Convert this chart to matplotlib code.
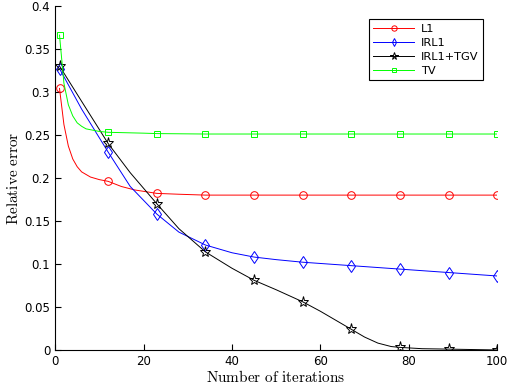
import numpy as np
import matplotlib
matplotlib.use("Agg")
import matplotlib.pyplot as plt
from matplotlib.ticker import FormatStrFormatter

plt.rcParams['mathtext.fontset'] = 'cm'

# values (iteration -> relative error)
it_l1 = [1, 2, 3, 4, 5, 6, 8, 10, 12, 15, 18, 23, 28, 34, 45, 56, 67, 78, 89, 100]
err_l1 = [0.304, 0.262, 0.237, 0.222, 0.213, 0.207, 0.201, 0.198, 0.196, 0.190,
          0.186, 0.182, 0.181, 0.180, 0.180, 0.180, 0.180, 0.180, 0.180, 0.180]

it_irl1 = [1, 6, 12, 17, 23, 28, 34, 40, 45, 50, 56, 67, 78, 89, 100]
err_irl1 = [0.327, 0.280, 0.230, 0.190, 0.158, 0.137, 0.122, 0.113, 0.108, 0.105,
            0.102, 0.098, 0.094, 0.090, 0.086]

it_tgv = [1, 6, 12, 17, 23, 28, 34, 40, 45, 50, 56, 60, 64, 67, 70, 73, 76, 78, 83, 89, 100]
err_tgv = [0.330, 0.289, 0.240, 0.206, 0.170, 0.141, 0.114, 0.095, 0.081, 0.070,
           0.056, 0.045, 0.033, 0.024, 0.015, 0.008, 0.004, 0.003, 0.0015, 0.001, 0.0]

it_tv = [1, 2, 3, 4, 5, 6, 7, 8, 10, 12, 20, 23, 34, 45, 56, 67, 78, 89, 100]
err_tv = [0.366, 0.310, 0.285, 0.272, 0.264, 0.260, 0.257, 0.256, 0.254, 0.253,
          0.252, 0.2515, 0.251, 0.251, 0.251, 0.251, 0.251, 0.251, 0.251]

marker_its = [1, 12, 23, 34, 45, 56, 67, 78, 89, 100]

fig = plt.figure(figsize=(5.1, 3.88), dpi=100)
ax = fig.add_axes([0.108, 0.098, 0.867, 0.887])

series = [
    (it_l1, err_l1, 'r', 'o', 5.5, 'L1'),
    (it_irl1, err_irl1, 'b', 'd', 6, 'IRL1'),
    (it_tgv, err_tgv, 'k', '*', 8, 'IRL1+TGV'),
    (it_tv, err_tv, (0, 1, 0), 's', 5, 'TV'),
]
for xs, ys, c, m, ms, lab in series:
    idx = [xs.index(v) for v in marker_its]
    ax.plot(xs, ys, color=c, lw=0.7, marker=m, markersize=ms, markevery=idx,
            markerfacecolor='none', markeredgecolor=c, markeredgewidth=0.7, label=lab)

ax.set_xlim(0, 100)
ax.set_ylim(0, 0.4)
ax.set_xticks(np.arange(0, 101, 20))
ax.set_yticks(np.arange(0, 0.401, 0.05))
ax.yaxis.set_major_formatter(FormatStrFormatter('%g'))
ax.tick_params(direction='in', labelsize=8.5, length=4)
ax.spines['top'].set_visible(False)
ax.spines['right'].set_visible(False)

ax.set_xlabel(r'$\mathrm{Number\ of\ iterations}$', fontsize=11, labelpad=1)
ax.set_ylabel(r'$\mathrm{Relative\ error}$', fontsize=11, labelpad=2)

leg = ax.legend(loc='upper right', bbox_to_anchor=(0.947, 0.951),
                bbox_transform=fig.transFigure, fontsize=8.2, handlelength=3.6,
                markerscale=0.7, fancybox=False, framealpha=1, borderaxespad=0,
                labelspacing=0.35, handletextpad=0.6)
leg.get_frame().set_edgecolor('k')
leg.get_frame().set_linewidth(0.8)

fig.savefig('out.png', dpi=100)
